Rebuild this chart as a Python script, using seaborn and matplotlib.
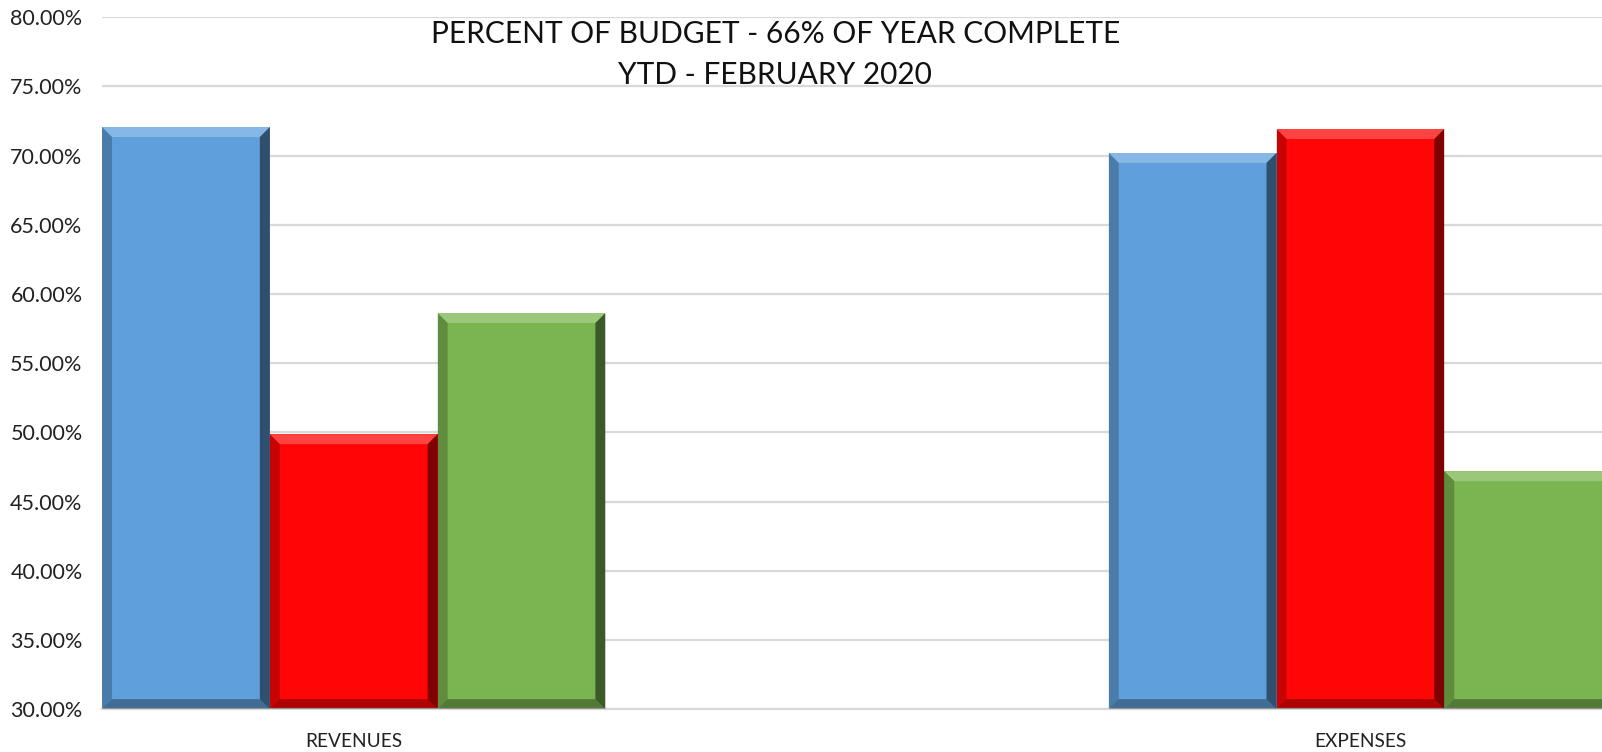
import pandas as pd
import matplotlib
matplotlib.use('Agg')
import matplotlib.pyplot as plt
import matplotlib.ticker as ticker
from matplotlib.patches import Polygon
import seaborn as sns

# values (percent of budget)
categories = ['REVENUES', 'EXPENSES']
series_names = ['Series 1', 'Series 2', 'Series 3']
series_1 = [72.07, 70.20]
series_2 = [49.87, 71.93]
series_3 = [58.63, 47.20]
colors = ['#5FA0DC', '#FF0505', '#7AB54F']
y_ticks = [30, 35, 40, 45, 50, 55, 60, 65, 70, 75, 80]

df = pd.DataFrame({
    'category': categories * 3,
    'series': [s for s in series_names for _ in categories],
    'value': series_1 + series_2 + series_3,
})

sns.set_style('white')
plt.rcParams['font.family'] = ['Lato', 'DejaVu Sans']

fig = plt.figure(figsize=(16.02, 7.52), dpi=100)
ax = fig.add_axes([0.0637, 0.057, 0.9363, 0.92])

sns.barplot(data=df, x='category', y='value', hue='series', order=categories,
            hue_order=series_names, palette=colors, width=0.5, saturation=1,
            edgecolor='none', linewidth=0, legend=False, ax=ax, zorder=2)

ax.set_xlim(-0.25, 1.24)
ax.set_ylim(30, 80)
ax.set_yticks(y_ticks)
ax.yaxis.set_major_formatter(ticker.FuncFormatter(lambda v, p: f'{v:.2f}%'))
ax.grid(axis='y', color='#d9d9d9', linewidth=1.6, zorder=0)
ax.set_axisbelow(True)
for s in ['top', 'right', 'left']:
    ax.spines[s].set_visible(False)
ax.spines['bottom'].set_color('#d9d9d9')
ax.spines['bottom'].set_linewidth(1.6)
ax.tick_params(axis='y', length=0, labelsize=15.5, pad=14, labelcolor='#222222')
ax.tick_params(axis='x', length=0, labelsize=13.8, pad=17, labelcolor='#222222')
ax.set_xlabel('')
ax.set_ylabel('')

# bevel effect on each bar (based on the drawn patch geometry)
fig.canvas.draw()
p0 = ax.transData.transform((0, 0))
p1 = ax.transData.transform((1, 1))
bx = 10 / (p1[0] - p0[0])
by = 10 / (p1[1] - p0[1])
for rect in list(ax.patches):
    x0, y0 = rect.get_x(), max(rect.get_y(), 30)
    x1, y1 = rect.get_x() + rect.get_width(), rect.get_y() + rect.get_height()
    faces = [
        ([(x0, y1), (x1, y1), (x1 - bx, y1 - by), (x0 + bx, y1 - by)], 'white', 0.25),
        ([(x0, y0), (x0, y1), (x0 + bx, y1 - by), (x0 + bx, y0 + by)], 'black', 0.22),
        ([(x1, y0), (x1, y1), (x1 - bx, y1 - by), (x1 - bx, y0 + by)], 'black', 0.5),
        ([(x0, y0), (x1, y0), (x1 - bx, y0 + by), (x0 + bx, y0 + by)], 'black', 0.32),
    ]
    for pts, c, a in faces:
        ax.add_patch(Polygon(pts, closed=True, facecolor=c, alpha=a,
                             edgecolor='none', zorder=3))

fig.text(0.484, 0.943, 'PERCENT OF BUDGET - 66% OF YEAR COMPLETE',
         ha='center', va='baseline', fontsize=21.5, color='#111111')
fig.text(0.484, 0.888, 'YTD - FEBRUARY 2020',
         ha='center', va='baseline', fontsize=21.5, color='#111111')

fig.savefig('out.png', dpi=100)
